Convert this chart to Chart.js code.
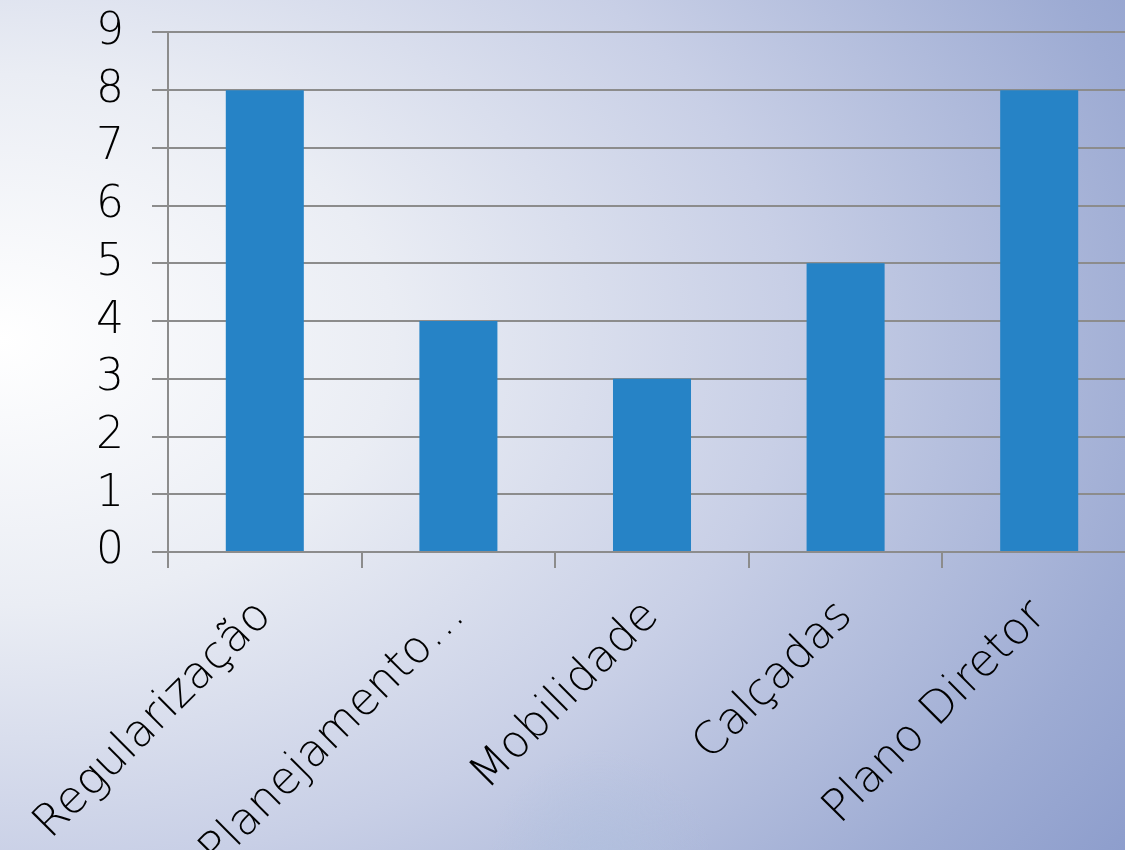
<!DOCTYPE html>
<html>
<head>
<meta charset="utf-8">
<script src="https://cdn.jsdelivr.net/npm/chart.js@4.4.0/dist/chart.umd.min.js"></script>
<style>
  html, body { margin: 0; padding: 0; overflow: hidden; }
  body {
    width: 1125px; height: 850px;
    background:
      radial-gradient(circle at 600px 860px, rgba(175,192,222,0.55) 0px, rgba(175,192,222,0) 110px),
      radial-gradient(ellipse 140% 125% at 0% 40%, #ffffff 0%, #eaedf4 25%, #c8cfe6 50%, #9dabd3 75%, #7a8dc4 100%);
  }
  #wrap { position: absolute; left: 0; top: -22px; width: 1136px; height: 872px; }
</style>
</head>
<body>
<div id="wrap"><canvas id="chart-1"></canvas></div>
<script>
document.addEventListener('DOMContentLoaded', (event) => {

    const categorias = ['Regularização', 'Planejamento…', 'Mobilidade', 'Calçadas', 'Plano Diretor'];
    const valores = [8, 4, 3, 5, 8];
    const yMin = 0;
    const yMax = 9;

    const gridColor = '#8c8c8c';
    const fonte = "'DejaVu Sans', sans-serif";

    const data = {
        labels: categorias,
        datasets: [
            {
                label: 'Série 1',
                data: valores,
                backgroundColor: '#2683c6',
                borderWidth: 0,
                barPercentage: 1,
                categoryPercentage: 0.403
            }
        ]
    };

    const config = {
        type: 'bar',
        data: data,
        options: {
            responsive: true,
            maintainAspectRatio: false,
            animation: false,
            layout: { padding: { top: 9, right: 0, left: 0, bottom: 0 } },
            plugins: {
                legend: { display: false },
                tooltip: { enabled: false }
            },
            scales: {
                x: {
                    offset: true,
                    grid: {
                        offset: true,
                        drawOnChartArea: false,
                        color: gridColor,
                        lineWidth: 2,
                        tickLength: 16
                    },
                    border: { display: false },
                    ticks: {
                        color: '#000',
                        font: { family: fonte, size: 45, weight: '200' },
                        maxRotation: 45,
                        minRotation: 45,
                        autoSkip: false,
                        padding: 22
                    },
                    afterFit: (axis) => { axis.height = 298; }
                },
                y: {
                    min: yMin,
                    max: yMax,
                    grid: {
                        color: gridColor,
                        lineWidth: 2,
                        tickLength: 16
                    },
                    border: { color: gridColor, width: 2 },
                    ticks: {
                        stepSize: 1,
                        autoSkip: false,
                        color: '#000',
                        font: { family: fonte, size: 44, weight: '200' },
                        padding: 28
                    },
                    afterFit: (axis) => { axis.width = 168; }
                }
            }
        }
    };

    const ctx = document.getElementById('chart-1').getContext('2d');
    new Chart(ctx, config);
});
</script>
</body>
</html>
